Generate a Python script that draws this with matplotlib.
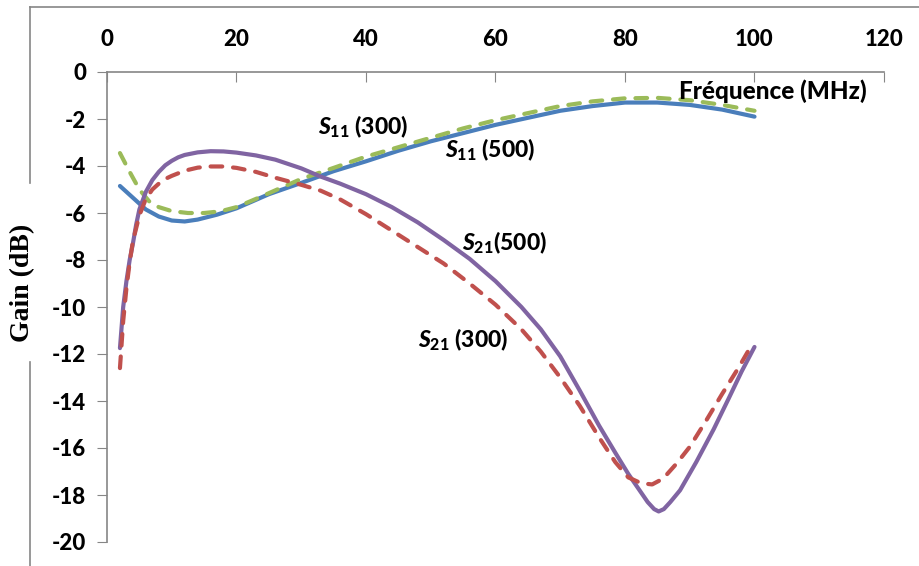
import numpy as np
import matplotlib.pyplot as plt
from matplotlib.lines import Line2D

plt.rcParams['font.family'] = ['Lato', 'DejaVu Sans']
plt.rcParams['mathtext.fontset'] = 'custom'
plt.rcParams['mathtext.it'] = 'Lato:italic:black'
plt.rcParams['mathtext.rm'] = 'Lato:black'
plt.rcParams['mathtext.bf'] = 'Lato:black'

# S11 (500) - courbe bleue
x_s11_500 = [2, 4, 6, 8, 10, 12, 14, 17, 20, 25, 30, 35, 40, 45, 50, 55, 60, 65, 70, 75, 80, 85, 90, 95, 100]
y_s11_500 = [-4.85, -5.35, -5.85, -6.15, -6.32, -6.36, -6.28, -6.07, -5.8, -5.2, -4.72, -4.22, -3.8,
             -3.35, -2.95, -2.6, -2.25, -1.95, -1.65, -1.45, -1.3, -1.3, -1.4, -1.6, -1.9]

# S11 (300) - courbe verte
x_s11_300 = [2, 3.5, 5, 6.5, 8, 10, 12.5, 15, 17.5, 20, 23, 26.7, 30, 35, 40, 45, 50, 55, 60, 65, 70,
             75, 80, 85, 90, 95, 100]
y_s11_300 = [-3.45, -4.25, -5.0, -5.5, -5.75, -5.92, -6.0, -6.0, -5.93, -5.75, -5.4, -4.95, -4.55,
             -4.08, -3.6, -3.2, -2.8, -2.4, -2.05, -1.75, -1.45, -1.25, -1.12, -1.1, -1.2, -1.4, -1.65]

# S21 (500) - courbe violette
x_s21_500 = [2, 2.5, 3, 3.5, 4, 4.5, 5, 6, 7, 8, 9, 10, 11, 12, 14, 16, 18, 20, 23, 26, 30, 33, 36,
             40, 44, 48, 52, 56, 60, 64, 67, 70, 73, 76, 78.5, 80.5, 82, 83.5, 84.5, 85.2, 86, 87,
             88.5, 91, 93.7, 96, 98, 100]
y_s21_500 = [-11.75, -10.0, -8.9, -8.0, -7.3, -6.5, -5.85, -5.1, -4.6, -4.25, -3.97, -3.78, -3.63,
             -3.53, -3.42, -3.37, -3.38, -3.43, -3.55, -3.73, -4.1, -4.45, -4.75, -5.2, -5.75, -6.4,
             -7.15, -7.95, -8.9, -10.0, -10.95, -12.1, -13.55, -15.05, -16.2, -17.1, -17.7, -18.3,
             -18.6, -18.7, -18.6, -18.3, -17.8, -16.6, -15.2, -13.9, -12.75, -11.7]

# S21 (300) - courbe rouge
x_s21_300 = [2, 2.5, 3, 3.5, 4, 5, 6, 7, 8, 9, 10, 12, 14, 16, 18, 20, 23, 26, 30, 33, 36, 40, 44,
             48, 52, 56, 60, 64, 67, 70, 73, 76, 78.5, 80.5, 82.5, 84.2, 85.9, 88, 90, 92.5, 95, 97.5,
             99.6]
y_s21_300 = [-12.6, -10.6, -9.2, -8.1, -7.2, -6.1, -5.4, -5.0, -4.75, -4.55, -4.42, -4.2, -4.07,
             -4.02, -4.02, -4.08, -4.25, -4.5, -4.8, -5.05, -5.42, -6.05, -6.75, -7.45, -8.15, -9.0,
             -9.9, -10.95, -11.9, -13.0, -14.2, -15.55, -16.6, -17.25, -17.5, -17.55, -17.3, -16.65,
             -15.95, -14.85, -13.7, -12.6, -11.6]

x_ticks = [0, 20, 40, 60, 80, 100, 120]
y_ticks = [0, -2, -4, -6, -8, -10, -12, -14, -16, -18, -20]

fig = plt.figure(figsize=(9.2, 5.66), dpi=100)
ax = fig.add_axes([107 / 920, 1 - 542 / 566, (884 - 107) / 920, (542 - 72) / 566])

lw = 3
dash = (0, (2.8, 2.6))
ax.plot(x_s11_500, y_s11_500, color='#4A7EBB', lw=lw, solid_capstyle='round', solid_joinstyle='round')
ax.plot(x_s11_300, y_s11_300, color='#9BBB59', lw=lw, linestyle=dash, dash_capstyle='round')
ax.plot(x_s21_500, y_s21_500, color='#8064A2', lw=lw, solid_capstyle='round', solid_joinstyle='round')
ax.plot(x_s21_300, y_s21_300, color='#C0504D', lw=lw, linestyle=dash, dash_capstyle='round')

ax.set_xlim(0, 120)
ax.set_ylim(-20, 0)
ax.set_xticks(x_ticks)
ax.set_yticks(y_ticks)
ax.set_yticklabels([str(v) for v in y_ticks])
ax.xaxis.tick_top()
ax.tick_params(axis='x', direction='in', length=7, color='#868686', labelsize=16, pad=16)
ax.tick_params(axis='y', direction='out', length=7, color='#868686', labelsize=16, pad=8)
for lab in ax.get_xticklabels() + ax.get_yticklabels():
    lab.set_fontweight('black')

for side in ['bottom', 'right']:
    ax.spines[side].set_visible(False)
for side in ['top', 'left']:
    ax.spines[side].set_color('#868686')
    ax.spines[side].set_linewidth(1.2)

# textes
txt = dict(fontsize=16.5, fontweight='black', va='center', ha='left')
ax.text(88.3, -0.81, 'Fréquence (MHz)', **dict(txt, fontsize=17.5))
ax.text(32.6, -2.34, r'$\mathit{S_{11}}$ (300)', **txt)
ax.text(52.2, -3.32, r'$\mathit{S_{11}}$ (500)', **txt)
ax.text(54.9, -7.28, r'$\mathit{S_{21}}$(500)', **txt)
ax.text(48.1, -11.4, r'$\mathit{S_{21}}$ (300)', **txt)

fig.text(23 / 920, 1 - 283 / 566, 'Gain (dB)', rotation=90, fontsize=20, fontweight='bold',
         family=['Liberation Serif', 'DejaVu Serif'], ha='center', va='center')

# cadre du graphique
frame_col = '#868686'
fig.add_artist(Line2D([30 / 920, 1], [1 - 7 / 566] * 2, color=frame_col, lw=1.2))
fig.add_artist(Line2D([30 / 920] * 2, [1 - 7 / 566, 1 - 183 / 566], color=frame_col, lw=1.2))
fig.add_artist(Line2D([30 / 920] * 2, [1 - 362 / 566, 0], color=frame_col, lw=1.2))

fig.savefig('out.png', dpi=100)
